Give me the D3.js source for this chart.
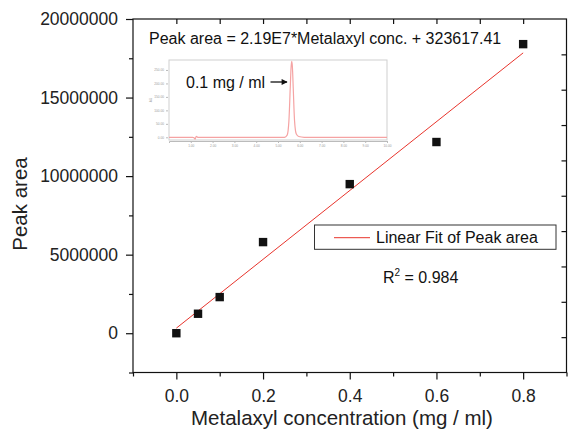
<!DOCTYPE html>
<html><head><meta charset="utf-8">
<script src="https://cdn.jsdelivr.net/npm/d3@7"></script>
<style>
html,body{margin:0;padding:0;background:#fff;}
svg{display:block;font-family:"Liberation Sans",Arial,Helvetica,sans-serif;}
</style></head>
<body><svg id="c" width="569" height="432"></svg>
<script>
// ---- data ----
const concentrations = [0, 0.05, 0.1, 0.2, 0.4, 0.6, 0.8];
const peakAreas = [0, 1240000, 2300000, 5800000, 9490000, 12170000, 18400000];
const fitSlope = 2.19e7;
const fitIntercept = 323617.41;
const fitRange = [0, 0.8];
const xTickLabels = ["0.0", "0.2", "0.4", "0.6", "0.8"];
const yTickLabels = ["0", "5000000", "10000000", "15000000", "20000000"];
const equationText = "Peak area = 2.19E7*Metalaxyl conc. + 323617.41";
const legendText = "Linear Fit of Peak area";
const r2Value = "0.984";
const insetLabel = "0.1 mg / ml";
// inset chromatogram (time in min, signal)
const chromTime = [0, 1.08, 1.15, 1.2, 1.25, 1.32, 5.3, 5.42, 5.5, 5.56, 5.6, 5.63, 5.66, 5.7, 5.76, 5.84, 5.95, 6.2, 10];
const chromSignal = [0, 0, -2, -7, 4, 0, 0, 8, 60, 180, 260, 282, 262, 180, 60, 12, 3, 0, 0];
const insetYTicks = ["0.00", "50.00", "100.00", "150.00", "200.00", "250.00"];
const insetXTicks = ["1.00","2.00","3.00","4.00","5.00","6.00","7.00","8.00","9.00","10.00"];

const svg = d3.select("#c");
const L = 133, R = 566.5, T = 19, B = 372.5;
const x = d3.scaleLinear().domain([-0.1, 0.9]).range([L, R]);
const y = d3.scaleLinear().domain([-2500000, 20000000]).range([B, T]);
const yR = d3.scaleLinear().domain([0, 10]).range([B, T]);

// frame
svg.append("rect").attr("x", L).attr("y", T).attr("width", R - L).attr("height", B - T)
  .attr("fill", "none").attr("stroke", "#111").attr("stroke-width", 1.2);

const axStyle = g => { g.select(".domain").remove(); g.selectAll("line").attr("stroke", "#111").attr("stroke-width", 1.2); };

// bottom axis: major + minor
svg.append("g").attr("transform", `translate(0,${B})`)
  .call(d3.axisBottom(x).tickValues(d3.range(0, 0.81, 0.2)).tickSize(7)
    .tickFormat((d, i) => xTickLabels[i]).tickPadding(10))
  .call(axStyle)
  .call(g => g.selectAll("text").attr("font-size", 17.5).attr("fill", "#222")
    .attr("font-family", "Liberation Sans, Arial, sans-serif"));
svg.append("g").attr("transform", `translate(0,${B})`)
  .call(d3.axisBottom(x).tickValues([-0.1, 0.1, 0.3, 0.5, 0.7, 0.9]).tickSize(4).tickFormat(""))
  .call(axStyle);
// top axis ticks inward
svg.append("g").attr("transform", `translate(0,${T})`)
  .call(d3.axisBottom(x).tickValues(d3.range(0, 0.81, 0.1)).tickSize(5).tickFormat(""))
  .call(axStyle);

// left axis
svg.append("g").attr("transform", `translate(${L},0)`)
  .call(d3.axisLeft(y).tickValues(d3.range(0, 20000001, 5000000)).tickSize(7)
    .tickFormat((d, i) => yTickLabels[i]).tickPadding(8))
  .call(axStyle)
  .call(g => g.selectAll("text").attr("font-size", 17.5).attr("fill", "#222")
    .attr("font-family", "Liberation Sans, Arial, sans-serif"));
svg.append("g").attr("transform", `translate(${L},0)`)
  .call(d3.axisLeft(y).tickValues([-2500000, 2500000, 7500000, 12500000, 17500000]).tickSize(4).tickFormat(""))
  .call(axStyle);
// right axis ticks inward
svg.append("g").attr("transform", `translate(${R},0)`)
  .call(d3.axisLeft(yR).tickValues(d3.range(1, 10)).tickSize(5).tickFormat(""))
  .call(axStyle);

// axis titles
svg.append("text").attr("x", 342).attr("y", 425).attr("text-anchor", "middle")
  .attr("font-size", 20.5).attr("fill", "#222").text("Metalaxyl concentration (mg / ml)");
svg.append("text").attr("transform", "translate(27,204) rotate(-90)").attr("text-anchor", "middle")
  .attr("font-size", 20.5).attr("fill", "#222").text("Peak area");

// ---- inset chromatogram ----
const ix = d3.scaleLinear().domain([0, 10]).range([169, 387]);
const iy = d3.scaleLinear().domain([-10, 287]).range([140, 60]);
const inset = svg.append("g");
inset.append("rect").attr("x", 169).attr("y", 60).attr("width", 218).attr("height", 80)
  .attr("fill", "#fff").attr("stroke", "#cfcfcf").attr("stroke-width", 1);
inset.append("g").attr("transform", "translate(0,141)")
  .call(d3.axisBottom(ix).tickValues(d3.range(1, 10.01, 1)).tickSize(2)
    .tickFormat((d, i) => insetXTicks[i]).tickPadding(2))
  .call(g => { g.select(".domain").attr("stroke", "#bbb"); g.selectAll("line").attr("stroke", "#bbb"); })
  .call(g => g.selectAll("text").attr("font-size", 3.2).attr("fill", "#999"));
inset.append("g").attr("transform", "translate(0,141)")
  .call(d3.axisBottom(ix).tickValues(d3.range(0.2, 10, 0.2)).tickSize(1).tickFormat(""))
  .call(g => { g.select(".domain").remove(); g.selectAll("line").attr("stroke", "#bbb"); });
inset.append("g").attr("transform", "translate(168,0)")
  .call(d3.axisLeft(iy).tickValues(d3.range(0, 251, 50)).tickSize(2)
    .tickFormat((d, i) => insetYTicks[i]).tickPadding(2))
  .call(g => { g.select(".domain").remove(); g.selectAll("line").attr("stroke", "#bbb"); })
  .call(g => g.selectAll("text").attr("font-size", 3.2).attr("fill", "#999"));
inset.append("text").attr("transform", "translate(152,100) rotate(-90)").attr("text-anchor", "middle")
  .attr("font-size", 3.2).attr("fill", "#999").text("AU");
const chromData = chromTime.map((t, i) => [t, chromSignal[i]]);
inset.append("path").datum(chromData)
  .attr("d", d3.line().x(d => ix(d[0])).y(d => iy(d[1])).curve(d3.curveMonotoneX))
  .attr("fill", "none").attr("stroke", "#f5a3a3").attr("stroke-width", 1.2);
inset.append("text").attr("x", 186).attr("y", 88.3).attr("font-size", 16).attr("fill", "#111").text(insetLabel);
svg.append("defs").append("marker").attr("id", "ah").attr("viewBox", "0 0 10 10")
  .attr("refX", 9).attr("refY", 5).attr("markerWidth", 8).attr("markerHeight", 6).attr("orient", "auto")
  .attr("markerUnits", "userSpaceOnUse")
  .append("path").attr("d", "M0,0 L10,5 L0,10 Z").attr("fill", "#111");
inset.append("line").attr("x1", 270.5).attr("y1", 82).attr("x2", 287).attr("y2", 82)
  .attr("stroke", "#111").attr("stroke-width", 1.3).attr("marker-end", "url(#ah)");

// ---- fit line ----
const fitData = fitRange.map(c => [c, fitSlope * c + fitIntercept]);
svg.append("path").datum(fitData)
  .attr("d", d3.line().x(d => x(d[0])).y(d => y(d[1])))
  .attr("fill", "none").attr("stroke", "#e8342c").attr("stroke-width", 1);

// ---- points ----
const sz = 8.4;
svg.append("g").selectAll("rect").data(concentrations.map((c, i) => [c, peakAreas[i]])).join("rect")
  .attr("x", d => x(d[0]) - sz / 2).attr("y", d => y(d[1]) - sz / 2)
  .attr("width", sz).attr("height", sz).attr("fill", "#111");

// equation
svg.append("text").attr("x", 149).attr("y", 44.3).attr("font-size", 16).attr("fill", "#111").text(equationText);

// legend
svg.append("rect").attr("x", 314.5).attr("y", 225).attr("width", 241.5).attr("height", 24.3)
  .attr("fill", "#fff").attr("stroke", "#333").attr("stroke-width", 1);
svg.append("line").attr("x1", 334).attr("x2", 370).attr("y1", 237.7).attr("y2", 237.7)
  .attr("stroke", "#e8342c").attr("stroke-width", 1);
svg.append("text").attr("x", 376).attr("y", 243.3).attr("font-size", 16).attr("fill", "#111").text(legendText);

// R^2
const r2 = svg.append("text").attr("x", 383).attr("y", 283.3).attr("font-size", 16).attr("fill", "#111");
r2.append("tspan").text("R");
r2.append("tspan").attr("font-size", 10).attr("dy", -7).text("2");
r2.append("tspan").attr("dy", 7).text(" = " + r2Value);
</script></body></html>
